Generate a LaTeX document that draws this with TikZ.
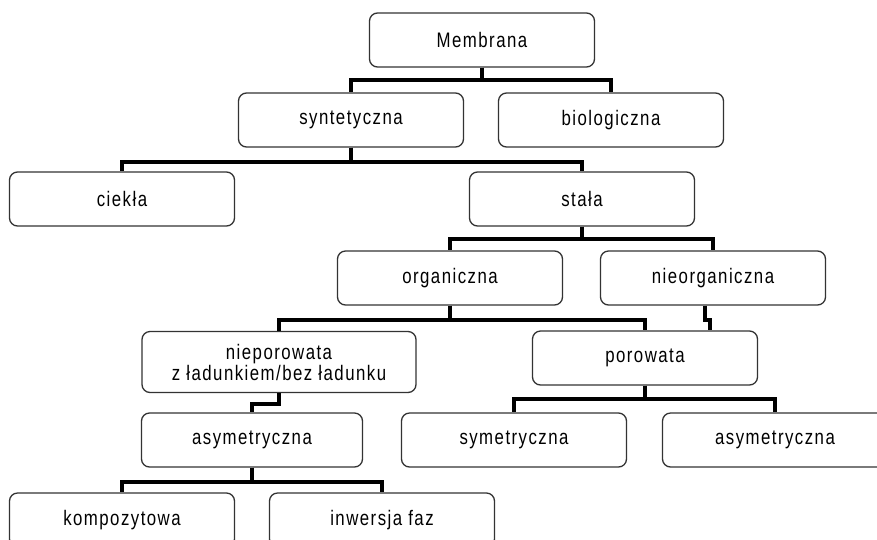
\documentclass[tikz,border=0pt]{standalone}
\usepackage{fontspec}
\setmainfont{Liberation Sans}[FakeStretch=0.8,LetterSpace=7]
\usepackage{tikz}
\usetikzlibrary{positioning}
\tikzstyle{link} = [line width=3.9pt, black]
\tikzstyle{block} = [rectangle, draw=black!80, line width=1.3pt, minimum width=225pt, minimum height=54pt, rounded corners=8pt, inner sep=0pt, font=\fontsize{21}{21}\selectfont]
\tikzset{every node/.style={align=center}}

\begin{document}
\begin{tikzpicture}[x=1pt, y=-1pt]
    \path[use as bounding box] (0,0) rectangle (877,539);
    \clip (0,0) rectangle (877,539);

    \node (mem)    [block] at (482,40)  {Membrana};
    \node (syn)    [block] at (351,120) {syntetyczna};
    \node (bio)    [block] at (611,120) {biologiczna};
    \node (cie)    [block] at (122,199) {ciekła};
    \node (sta)    [block] at (582,199) {stała};
    \node (org)    [block] at (450,278) {organiczna};
    \node (nieorg) [block] at (713,278) {nieorganiczna};
    \node (niepor) [block, minimum width=274pt, minimum height=61pt] at (279,362) {nieporowata\\z ładunkiem/bez ładunku};
    \node (por)    [block] at (645,358) {porowata};
    \node (asyL)   [block, minimum width=221pt] at (252,440) {asymetryczna};
    \node (sym)    [block] at (514,440) {symetryczna};
    \node (asyR)   [block] at (775,440) {asymetryczna};
    \node (kom)    [block] at (122,520) {kompozytowa};
    \node (inw)    [block] at (382,520) {inwersja faz};

    \draw [link] (mem.south) -- ++(0,12) -| (syn.north);
    \draw [link] (mem.south) -- ++(0,12) -| (bio.north);
    \draw [link] (syn.south) -- ++(0,14) -| (cie.north);
    \draw [link] (syn.south) -- ++(0,14) -| (sta.north);
    \draw [link] (sta.south) -- ++(0,12) -| (org.north);
    \draw [link] (sta.south) -- ++(0,12) -| (nieorg.north);
    \draw [link] (org.south) -- ++(0,14) -| (niepor.north);
    \draw [link] (org.south) -- ++(0,14) -| (por.north);
    \draw [link] ([xshift=-8pt]nieorg.south) -- ++(0,14) -- ++(5,0) |- ([xshift=65pt]por.north);
    \draw [link] (niepor.south) -- ++(0,11) -| (asyL.north);
    \draw [link] (por.south) -- ++(0,13) -| (sym.north);
    \draw [link] (por.south) -- ++(0,13) -| (asyR.north);
    \draw [link] (asyL.south) -- ++(0,14) -| (kom.north);
    \draw [link] (asyL.south) -- ++(0,14) -| (inw.north);
\end{tikzpicture}
\end{document}
